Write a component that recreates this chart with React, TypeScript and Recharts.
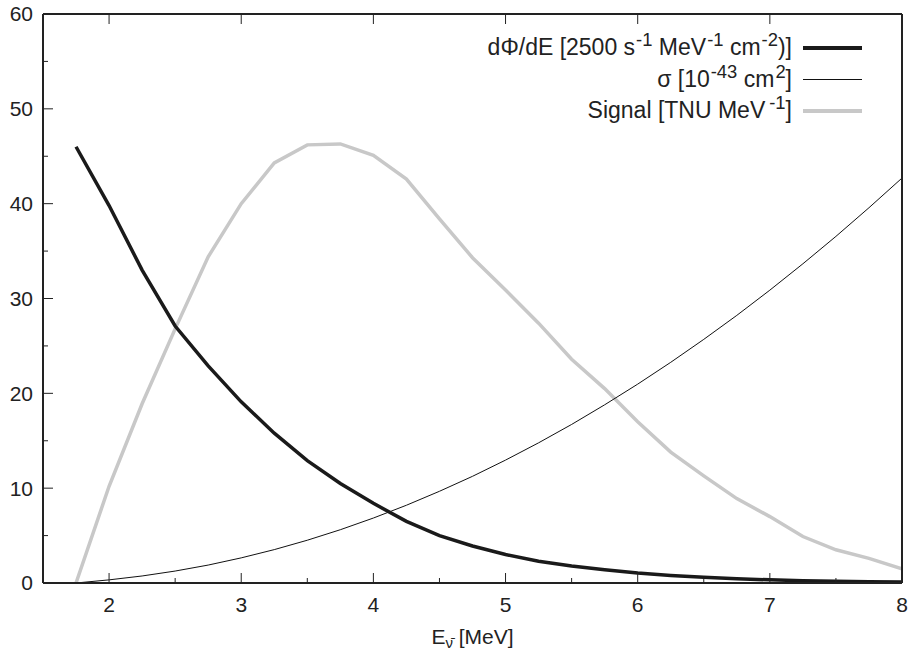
import React from "react"
import { LineChart, Line, XAxis, YAxis, Label } from "recharts"

// ============================================
// DATA
// ============================================

// neutrino energy grid [MeV]
const energy = [
  1.75, 2.0, 2.25, 2.5, 2.75, 3.0, 3.25, 3.5, 3.75, 4.0, 4.25, 4.5, 4.75, 5.0,
  5.25, 5.5, 5.75, 6.0, 6.25, 6.5, 6.75, 7.0, 7.25, 7.5, 7.75, 8.0,
]

// dPhi/dE [2500 s-1 MeV-1 cm-2]
const flux = [
  46.0, 39.8, 33.0, 27.1, 22.9, 19.1, 15.8, 12.9, 10.5, 8.4, 6.5, 5.0, 3.9, 3.0,
  2.3, 1.8, 1.4, 1.05, 0.8, 0.6, 0.45, 0.33, 0.25, 0.18, 0.13, 0.1,
]

// sigma [1e-43 cm2]
const sigma = [
  0, 0.33, 0.74, 1.26, 1.89, 2.65, 3.52, 4.51, 5.62, 6.85, 8.2, 9.67, 11.25,
  12.96, 14.78, 16.72, 18.79, 20.97, 23.27, 25.69, 28.22, 30.88, 33.66, 36.55,
  39.57, 42.7,
]

// signal [TNU MeV-1]
const signal = [
  0, 10.2, 18.9, 26.8, 34.4, 40.0, 44.3, 46.2, 46.3, 45.1, 42.6, 38.4, 34.3,
  30.9, 27.4, 23.6, 20.5, 17.0, 13.8, 11.3, 8.9, 7.0, 4.9, 3.5, 2.6, 1.5,
]

const xTicks = [2, 2.5, 3, 3.5, 4, 4.5, 5, 5.5, 6, 6.5, 7, 7.5, 8]
const xTopTicks = [2, 3, 4, 5, 6, 7]
const yTicks = [0, 5, 10, 15, 20, 25, 30, 35, 40, 45, 50, 55, 60]

const chartData = energy.map((e, i) => ({
  e,
  flux: flux[i],
  sigma: sigma[i],
  signal: signal[i],
}))

// ============================================
// STYLE
// ============================================

const FONT = "'Liberation Sans', Arial, Helvetica, sans-serif"
const INK = "#222"
const FLUX_COLOR = "#1a1a1a"
const SIGMA_COLOR = "#111"
const SIGNAL_COLOR = "#c8c8c8"

const MAJOR = 10
const MINOR = 5
const BOTTOM_MARGIN = 14
const LEFT_MARGIN = 10

const isInt = (v: number) => Math.abs(v - Math.round(v)) < 1e-6
const isTen = (v: number) => Math.abs(v % 10) < 1e-6

// ============================================
// TICKS (gnuplot style, pointing inward)
// ============================================

function BottomTick({ x, y, payload }: any) {
  const axisY = y - BOTTOM_MARGIN
  const major = isInt(payload.value)
  return (
    <g>
      <line x1={x} x2={x} y1={axisY} y2={axisY - (major ? MAJOR : MINOR)} stroke={INK} strokeWidth={1} />
      {major && (
        <text x={x} y={y} dy="0.71em" textAnchor="middle" fill={INK} fontSize={21} fontFamily={FONT}>
          {payload.value}
        </text>
      )}
    </g>
  )
}

function TopTick({ x, y }: any) {
  return <line x1={x} x2={x} y1={y} y2={y + MAJOR} stroke={INK} strokeWidth={1} />
}

function LeftTick({ x, y, payload }: any) {
  const axisX = x + LEFT_MARGIN
  const major = isTen(payload.value)
  return (
    <g>
      <line x1={axisX} x2={axisX + (major ? MAJOR : MINOR)} y1={y} y2={y} stroke={INK} strokeWidth={1} />
      {major && (
        <text x={x} y={y} dy="0.355em" textAnchor="end" fill={INK} fontSize={21} fontFamily={FONT}>
          {payload.value}
        </text>
      )}
    </g>
  )
}

function RightTick({ x, y, payload }: any) {
  const major = isTen(payload.value)
  return <line x1={x} x2={x - (major ? MAJOR : MINOR)} y1={y} y2={y} stroke={INK} strokeWidth={1} />
}

function XLabel({ viewBox }: any) {
  const cx = viewBox.x + viewBox.width / 2
  return (
    <text x={cx} y={viewBox.y + 61} textAnchor="middle" fill={INK} fontSize={21} fontFamily={FONT}>
      E
      <tspan dy={4} fontSize={15}>{"\u03BD\u0304"}</tspan>
      <tspan dy={-4}> [MeV]</tspan>
    </text>
  )
}

// ============================================
// LEGEND
// ============================================

const legendRows = [
  {
    key: "flux",
    color: FLUX_COLOR,
    width: 4,
    label: (
      <>
        dΦ/dE [2500 s<sup>-1</sup> MeV<sup>-1</sup> cm<sup>-2</sup>)]
      </>
    ),
  },
  {
    key: "sigma",
    color: SIGMA_COLOR,
    width: 1,
    label: (
      <>
        σ [10<sup>-43</sup> cm<sup>2</sup>]
      </>
    ),
  },
  {
    key: "signal",
    color: SIGNAL_COLOR,
    width: 4,
    label: (
      <>
        Signal [TNU MeV<sup style={{ marginLeft: 4 }}>-1</sup>]
      </>
    ),
  },
]

function PlotLegend() {
  return (
    <div style={{ position: "absolute", top: 32, right: 48, fontFamily: FONT, fontSize: 23, color: INK }}>
      {legendRows.map((r) => (
        <div key={r.key} style={{ display: "flex", alignItems: "center", justifyContent: "flex-end", height: 31.5 }}>
          <span style={{ whiteSpace: "nowrap", lineHeight: 1 }}>{r.label}</span>
          <div style={{ width: 59, height: r.width, background: r.color, marginLeft: 11 }} />
        </div>
      ))}
    </div>
  )
}

// ============================================
// COMPONENT
// ============================================

export default function App() {
  return (
    <div style={{ position: "absolute", left: 0, top: 0, width: 910, height: 653, background: "#fff" }}>
      <style>{`sup { font-size: 0.8em; vertical-align: 0; position: relative; top: -0.5em; margin-left: 1px; }`}</style>
      <LineChart width={910} height={653} data={chartData} margin={{ top: 0, right: 0, bottom: 0, left: 0 }}>
        <XAxis
          dataKey="e"
          type="number"
          domain={[1.5, 8]}
          allowDataOverflow
          ticks={xTicks}
          interval={0}
          height={70}
          tickSize={0}
          tickMargin={BOTTOM_MARGIN}
          tick={<BottomTick />}
          axisLine={{ stroke: INK, strokeWidth: 2 }}
        >
          <Label content={<XLabel />} />
        </XAxis>
        <XAxis
          xAxisId="top"
          orientation="top"
          dataKey="e"
          type="number"
          domain={[1.5, 8]}
          allowDataOverflow
          ticks={xTopTicks}
          interval={0}
          height={14}
          tickSize={0}
          tickMargin={0}
          tick={<TopTick />}
          axisLine={{ stroke: INK, strokeWidth: 2 }}
        />
        <YAxis
          type="number"
          domain={[0, 60]}
          ticks={yTicks}
          interval={0}
          width={43}
          tickSize={0}
          tickMargin={LEFT_MARGIN}
          tick={<LeftTick />}
          axisLine={{ stroke: INK, strokeWidth: 2 }}
        />
        <YAxis
          yAxisId="right"
          orientation="right"
          type="number"
          domain={[0, 60]}
          ticks={yTicks}
          interval={0}
          width={8}
          tickSize={0}
          tickMargin={0}
          tick={<RightTick />}
          axisLine={{ stroke: INK, strokeWidth: 2 }}
        />
        <Line
          type="linear"
          dataKey="signal"
          stroke={SIGNAL_COLOR}
          strokeWidth={3.5}
          dot={false}
          isAnimationActive={false}
        />
        <Line
          type="linear"
          dataKey="sigma"
          stroke={SIGMA_COLOR}
          strokeWidth={1}
          dot={false}
          isAnimationActive={false}
        />
        <Line
          type="linear"
          dataKey="flux"
          stroke={FLUX_COLOR}
          strokeWidth={3.5}
          dot={false}
          isAnimationActive={false}
        />
      </LineChart>
      <PlotLegend />
    </div>
  )
}
